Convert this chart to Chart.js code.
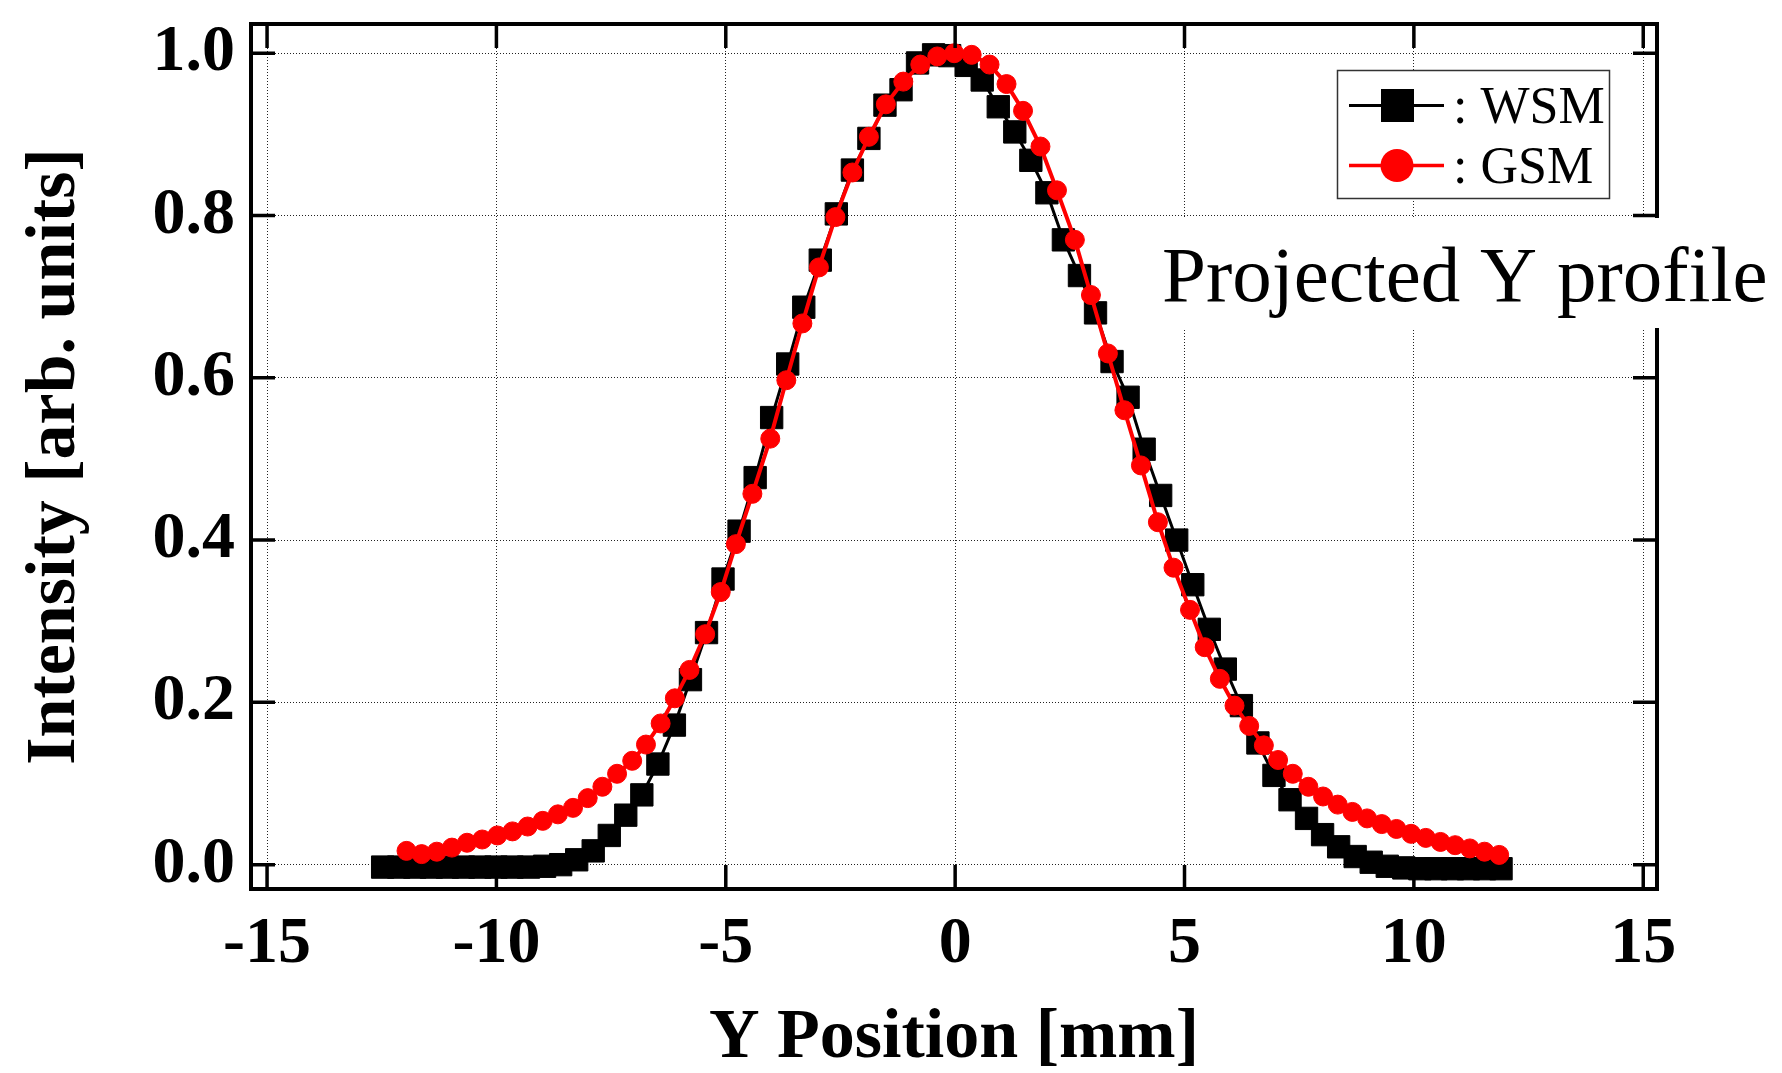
<!DOCTYPE html>
<html>
<head>
<meta charset="utf-8">
<title>Projected Y profile</title>
<script src="https://cdn.jsdelivr.net/npm/chart.js@4.4.0/dist/chart.umd.min.js"></script>
<style>
  html, body { margin: 0; padding: 0; background: #fff; }
  canvas { display: block; }
</style>
</head>
<body>
<canvas id="profileChart" width="1782" height="1073"></canvas>
<script>
// WSM 측정값 (검은 사각형)
const wsmX = [
    -12.48, -12.13, -11.78, -11.42, -11.07, -10.72, -10.36, -10.01, -9.66, -9.30,
    -8.95, -8.60, -8.25, -7.89, -7.54, -7.18, -6.83, -6.48, -6.12, -5.77,
    -5.42, -5.06, -4.71, -4.36, -4.00, -3.65, -3.30, -2.94, -2.59, -2.24,
    -1.88, -1.53, -1.18, -0.82, -0.47, -0.12, 0.24, 0.59, 0.94, 1.30,
    1.65, 2.00, 2.36, 2.71, 3.06, 3.42, 3.77, 4.12, 4.48, 4.83,
    5.18, 5.54, 5.89, 6.24, 6.60, 6.95, 7.30, 7.66, 8.01, 8.36,
    8.72, 9.07, 9.42, 9.78, 10.13, 10.48, 10.84, 11.19, 11.54, 11.90
];
const wsmY = [
    -0.003, -0.003, -0.003, -0.003, -0.003, -0.003, -0.003, -0.003, -0.003, -0.003,
    -0.002, 0.000, 0.006, 0.017, 0.036, 0.061, 0.086, 0.124, 0.172, 0.228,
    0.286, 0.352, 0.411, 0.477, 0.551, 0.617, 0.687, 0.745, 0.802, 0.856,
    0.895, 0.936, 0.955, 0.988, 0.998, 0.997, 0.985, 0.967, 0.934, 0.903,
    0.868, 0.828, 0.770, 0.726, 0.680, 0.620, 0.576, 0.512, 0.455, 0.400,
    0.345, 0.290, 0.241, 0.196, 0.150, 0.110, 0.080, 0.057, 0.037, 0.022,
    0.010, 0.003, -0.002, -0.004, -0.005, -0.005, -0.005, -0.005, -0.005, -0.005
];

// GSM 계산값 (빨간 원)
const gsmX = [
    -11.96, -11.63, -11.30, -10.97, -10.64, -10.31, -9.98, -9.65, -9.32, -8.99,
    -8.66, -8.33, -8.01, -7.69, -7.37, -7.04, -6.74, -6.42, -6.11, -5.79,
    -5.45, -5.11, -4.78, -4.42, -4.03, -3.68, -3.33, -2.97, -2.61, -2.24,
    -1.88, -1.51, -1.13, -0.76, -0.39, -0.02, 0.36, 0.75, 1.12, 1.48,
    1.86, 2.22, 2.61, 2.96, 3.33, 3.69, 4.05, 4.42, 4.76, 5.12,
    5.44, 5.77, 6.09, 6.41, 6.73, 7.04, 7.36, 7.70, 8.02, 8.34,
    8.66, 8.98, 9.30, 9.62, 9.94, 10.26, 10.58, 10.90, 11.22, 11.54, 11.86
];
const gsmY = [
    0.017, 0.013, 0.016, 0.021, 0.027, 0.031, 0.036, 0.041, 0.047, 0.054,
    0.062, 0.070, 0.082, 0.096, 0.112, 0.128, 0.148, 0.174, 0.205, 0.240,
    0.284, 0.336, 0.395, 0.457, 0.525, 0.597, 0.667, 0.736, 0.798, 0.853,
    0.897, 0.937, 0.965, 0.986, 0.996, 1.000, 0.998, 0.986, 0.962, 0.929,
    0.885, 0.831, 0.770, 0.702, 0.630, 0.560, 0.492, 0.422, 0.366, 0.314,
    0.268, 0.229, 0.196, 0.171, 0.147, 0.129, 0.112, 0.096, 0.084, 0.074,
    0.065, 0.057, 0.050, 0.044, 0.038, 0.033, 0.028, 0.024, 0.020, 0.016, 0.012
];

// 눈금
const xTicks = [-15, -10, -5, 0, 5, 10, 15];
const yTicks = [0.0, 0.2, 0.4, 0.6, 0.8, 1.0];

const xTitle = "Y Position [mm]";
const yTitle = "Intensity [arb. units]";
const panelLabel = "Projected Y profile";

const serif = "'Liberation Serif', 'Times New Roman', serif";

function toPoints(xs, ys) {
    return xs.map((x, i) => ({ x: x, y: ys[i] }));
}

// 축 크기 고정 (라벨 때문에 생기는 여백 제거)
function fixScale(s, size) {
    if (s.isHorizontal()) {
        s.height = size;
    } else {
        s.width = size;
    }
    s.paddingTop = 0;
    s.paddingBottom = 0;
    s.paddingLeft = 0;
    s.paddingRight = 0;
}

// 프레임, 안쪽 눈금, 범례, 라벨
const framePlugin = {
    id: "frame",
    afterDraw(chart) {
        const { ctx, chartArea: a, scales } = chart;
        ctx.save();

        ctx.strokeStyle = "#000";
        ctx.lineWidth = 3.5;
        ctx.beginPath();
        xTicks.forEach(v => {
            const px = scales.x.getPixelForValue(v);
            ctx.moveTo(px, a.bottom);
            ctx.lineTo(px, a.bottom - 24);
            ctx.moveTo(px, a.top);
            ctx.lineTo(px, a.top + 24);
        });
        yTicks.forEach(v => {
            const py = scales.y.getPixelForValue(v);
            ctx.moveTo(a.left, py);
            ctx.lineTo(a.left + 24, py);
            ctx.moveTo(a.right, py);
            ctx.lineTo(a.right - 24, py);
        });
        ctx.stroke();

        ctx.lineWidth = 4;
        ctx.strokeRect(a.left, a.top, a.right - a.left, a.bottom - a.top);

        // 범례 상자
        ctx.fillStyle = "#fff";
        ctx.fillRect(1337.5, 70.5, 272, 128);
        ctx.lineWidth = 1.5;
        ctx.strokeStyle = "#333";
        ctx.strokeRect(1337.5, 70.5, 272, 128);

        ctx.lineWidth = 3;
        ctx.strokeStyle = "#000";
        ctx.beginPath();
        ctx.moveTo(1349, 105.5);
        ctx.lineTo(1444, 105.5);
        ctx.stroke();
        ctx.fillStyle = "#000";
        ctx.fillRect(1381, 89, 33, 33);

        ctx.lineWidth = 3.5;
        ctx.strokeStyle = "#ff0000";
        ctx.beginPath();
        ctx.moveTo(1349, 165.5);
        ctx.lineTo(1444, 165.5);
        ctx.stroke();
        ctx.fillStyle = "#ff0000";
        ctx.beginPath();
        ctx.arc(1397, 165.5, 16.5, 0, Math.PI * 2);
        ctx.fill();

        ctx.fillStyle = "#000";
        ctx.font = "52px " + serif;
        ctx.textAlign = "left";
        ctx.textBaseline = "alphabetic";
        ctx.fillText(": WSM", 1453, 122.5);
        ctx.fillText(": GSM", 1453, 182.5);

        // 그림 라벨 (흰 배경)
        ctx.fillStyle = "#fff";
        ctx.fillRect(1150, 218, 632, 110);
        ctx.fillStyle = "#000";
        ctx.font = "79px " + serif;
        ctx.fillText(panelLabel, 1162, 300.5);

        ctx.restore();
    }
};

const ctx = document.getElementById("profileChart").getContext("2d");

const chart = new Chart(ctx, {
    "type": "scatter",
    "data": {
        "datasets": [
            {
                "label": "WSM",
                "data": toPoints(wsmX, wsmY),
                "showLine": true,
                "borderColor": "#000",
                "borderWidth": 3,
                "backgroundColor": "#000",
                "pointStyle": "rect",
                "pointRadius": 15.8,
                "pointBorderWidth": 1,
                "pointBorderColor": "#000",
                "pointBackgroundColor": "#000",
                "tension": 0,
                "order": 1
            },
            {
                "label": "GSM",
                "data": toPoints(gsmX, gsmY),
                "showLine": true,
                "borderColor": "#ff0000",
                "borderWidth": 4,
                "backgroundColor": "#ff0000",
                "pointStyle": "circle",
                "pointRadius": 9.5,
                "pointBorderWidth": 1,
                "pointBorderColor": "#ff0000",
                "pointBackgroundColor": "#ff0000",
                "tension": 0,
                "order": 0
            }
        ]
    },
    "options": {
        "responsive": false,
        "animation": false,
        "layout": { "padding": { "top": 24, "right": 125, "left": 0, "bottom": 0 } },
        "plugins": {
            "legend": { "display": false },
            "tooltip": { "enabled": false }
        },
        "scales": {
            "x": {
                "type": "linear",
                "min": -15.35,
                "max": 15.3,
                "afterBuildTicks": s => { s.ticks = xTicks.map(v => ({ value: v })); },
                "afterFit": s => fixScale(s, 184),
                "grid": { "color": "#222", "lineWidth": 1, "drawTicks": false },
                "border": { "display": false, "dash": [1, 2] },
                "ticks": {
                    "color": "#000",
                    "padding": 16,
                    "maxRotation": 0,
                    "autoSkip": false,
                    "font": { "family": serif, "size": 66, "weight": "bold" },
                    "callback": v => String(v)
                },
                "title": {
                    "display": true,
                    "text": xTitle,
                    "color": "#000",
                    "font": { "family": serif, "size": 70, "weight": "bold" },
                    "padding": { "top": 0, "bottom": -8 }
                }
            },
            "y": {
                "type": "linear",
                "min": -0.03,
                "max": 1.036,
                "afterBuildTicks": s => { s.ticks = yTicks.map(v => ({ value: v })); },
                "afterFit": s => fixScale(s, 251),
                "grid": { "color": "#222", "lineWidth": 1, "drawTicks": false },
                "border": { "display": false, "dash": [1, 2] },
                "ticks": {
                    "color": "#000",
                    "padding": 16,
                    "font": { "family": serif, "size": 66, "weight": "bold" },
                    "callback": v => v.toFixed(1)
                },
                "title": {
                    "display": true,
                    "text": yTitle,
                    "color": "#000",
                    "font": { "family": serif, "size": 70, "weight": "bold" },
                    "padding": { "top": 14, "bottom": 0 }
                }
            }
        }
    },
    "plugins": [framePlugin]
});
</script>
</body>
</html>
